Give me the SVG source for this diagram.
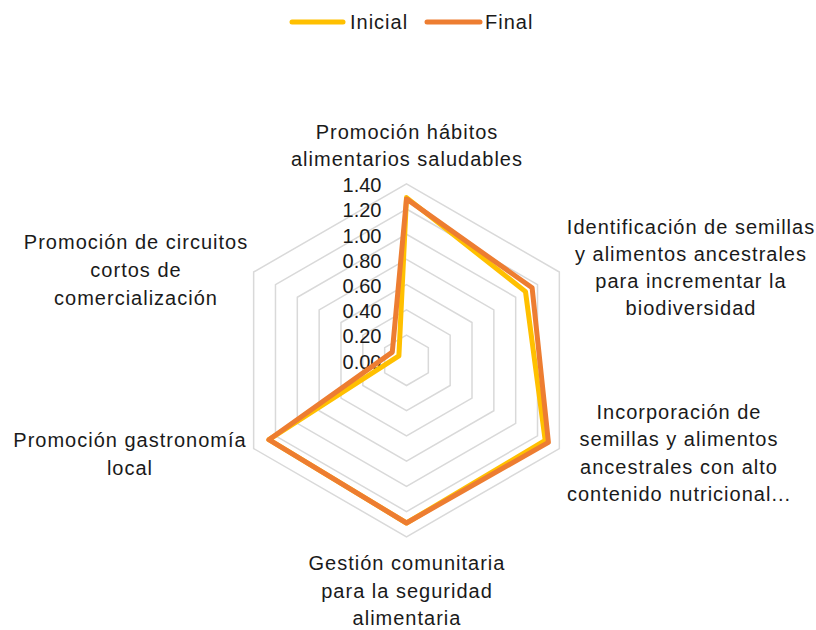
<svg xmlns="http://www.w3.org/2000/svg" width="816" height="630" viewBox="0 0 816 630">
<style>
text{font-family:"Liberation Sans",Arial,sans-serif;font-size:20px;fill:#1a1a1a}
.lbl{text-anchor:middle;letter-spacing:1px}
.tick{text-anchor:end}
.grid{fill:none;stroke:#d9d9d9;stroke-width:1.5}
.ser{fill:none;stroke-width:5;stroke-linejoin:round;stroke-linecap:round}
.ini{stroke:#ffc000}
.fin{stroke:#ed7d31}
</style>
<rect width="816" height="630" fill="#fff"/>
<g id="legend">
<line x1="292" y1="22" x2="343" y2="22" class="ser ini"/>
<text x="350" y="28.5" style="letter-spacing:1px">Inicial</text>
<line x1="427" y1="22" x2="480" y2="22" class="ser fin"/>
<text x="485" y="28.5" style="letter-spacing:1px">Final</text>
</g>
<g id="grid">
<polygon class="grid" points="406.5,335.09 428.33,347.69 428.33,372.91 406.5,385.51 384.67,372.91 384.67,347.69"/>
<polygon class="grid" points="406.5,309.87 450.17,335.09 450.17,385.51 406.5,410.73 362.83,385.51 362.83,335.09"/>
<polygon class="grid" points="406.5,284.66 472.01,322.48 472.01,398.12 406.5,435.94 340.99,398.12 340.99,322.48"/>
<polygon class="grid" points="406.5,259.44 493.84,309.87 493.84,410.73 406.5,461.16 319.16,410.73 319.16,309.87"/>
<polygon class="grid" points="406.5,234.23 515.68,297.26 515.68,423.34 406.5,486.37 297.32,423.34 297.32,297.26"/>
<polygon class="grid" points="406.5,209.01 537.52,284.66 537.52,435.94 406.5,511.59 275.48,435.94 275.48,284.66"/>
<polygon class="grid" points="406.5,183.8 559.35,272.05 559.35,448.55 406.5,536.8 253.65,448.55 253.65,272.05"/>
</g>
<g id="ticks">
<text class="tick" x="381.5" y="368.5">0.00</text>
<text class="tick" x="381.5" y="343.3">0.20</text>
<text class="tick" x="381.5" y="318.1">0.40</text>
<text class="tick" x="381.5" y="292.9">0.60</text>
<text class="tick" x="381.5" y="267.7">0.80</text>
<text class="tick" x="381.5" y="242.5">1.00</text>
<text class="tick" x="381.5" y="217.3">1.20</text>
<text class="tick" x="381.5" y="192.1">1.40</text>
</g>
<g id="series">
<polygon id="inicial" class="ser ini" points="406.5,197.6 525.5,291.6 545.2,440.4 406.5,523 268.9,439.7 398.9,355.9"/>
<polygon id="final" class="ser fin" points="406.5,198.9 532.1,287.8 548.4,442.3 406.5,523 268.9,439.7 392.3,352.1"/>
</g>
<g id="axis-1">
<text class="lbl" x="407" y="138.5">Promoción hábitos</text>
<text class="lbl" x="407" y="166">alimentarios saludables</text>
</g>
<g id="axis-2">
<text class="lbl" x="691" y="234">Identificación de semillas</text>
<text class="lbl" x="691" y="261">y alimentos ancestrales</text>
<text class="lbl" x="691" y="288">para incrementar la</text>
<text class="lbl" x="691" y="315">biodiversidad</text>
</g>
<g id="axis-3">
<text class="lbl" x="679" y="418.5">Incorporación de</text>
<text class="lbl" x="679" y="446">semillas y alimentos</text>
<text class="lbl" x="679" y="473.5">ancestrales con alto</text>
<text class="lbl" x="679" y="501">contenido nutricional...</text>
</g>
<g id="axis-4">
<text class="lbl" x="407" y="570">Gestión comunitaria</text>
<text class="lbl" x="407" y="597.5">para la seguridad</text>
<text class="lbl" x="407" y="625">alimentaria</text>
</g>
<g id="axis-5">
<text class="lbl" x="130" y="447">Promoción gastronomía</text>
<text class="lbl" x="130" y="475">local</text>
</g>
<g id="axis-6">
<text class="lbl" x="136" y="248.5">Promoción de circuitos</text>
<text class="lbl" x="136" y="277">cortos de</text>
<text class="lbl" x="136" y="305">comercialización</text>
</g>
</svg>
